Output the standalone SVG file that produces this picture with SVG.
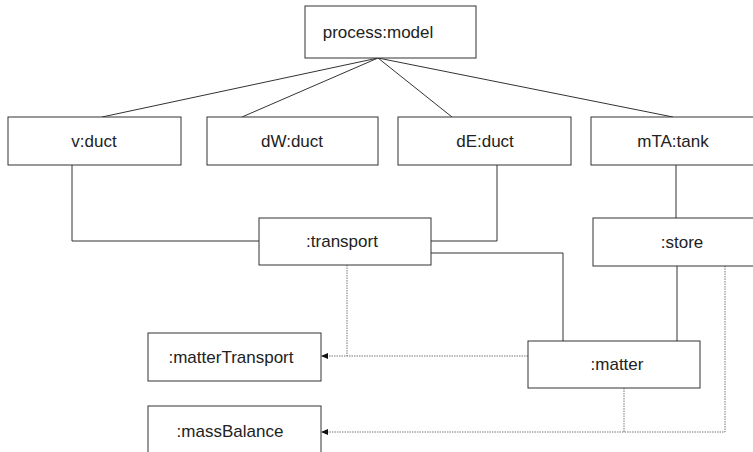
<svg xmlns="http://www.w3.org/2000/svg" width="753" height="452" viewBox="0 0 753 452">
<style>
.box{fill:#fff;stroke:#333;stroke-width:1}
.t{font-family:"Liberation Sans",Arial,sans-serif;font-size:17px;fill:#222;text-anchor:middle}
.s{fill:none;stroke:#333;stroke-width:1}
.d{fill:none;stroke:#777;stroke-width:1;stroke-dasharray:1.5,1}
</style>
<defs>
<marker id="ah" markerWidth="7" markerHeight="6" refX="7" refY="3" orient="auto" markerUnits="userSpaceOnUse">
<path d="M0,0 L7,3 L0,6 Z" fill="#111"/>
</marker>
</defs>
<rect width="753" height="452" fill="#fff"/>
<g id="connectors">
<line class="s" x1="378" y1="58" x2="102" y2="117"/>
<line class="s" x1="378" y1="58" x2="242" y2="117"/>
<line class="s" x1="378" y1="58" x2="452" y2="117"/>
<line class="s" x1="378" y1="58" x2="673" y2="117"/>
<polyline class="s" points="72,165 72,241 259,241"/>
<polyline class="s" points="497,165 497,241 431,241"/>
<polyline class="s" points="431,253 563,253 563,341"/>
<line class="s" x1="676" y1="165" x2="676" y2="218"/>
<line class="s" x1="677" y1="266" x2="677" y2="341"/>
<polyline class="d" points="347,265 347,356"/>
<polyline class="d" points="528,356 321,356" marker-end="url(#ah)"/>
<polyline class="d" points="725,266 725,432 321,432" marker-end="url(#ah)"/>
<line class="d" x1="624" y1="388" x2="624" y2="432"/>
</g>
<g id="process-model"><rect class="box" x="305" y="6" width="171" height="52"/><text class="t" x="378" y="38">process:model</text></g>
<g id="v-duct"><rect class="box" x="8" y="117" width="173" height="48"/><text class="t" x="94" y="147">v:duct</text></g>
<g id="dW-duct"><rect class="box" x="207" y="117" width="171" height="48"/><text class="t" x="292" y="147">dW:duct</text></g>
<g id="dE-duct"><rect class="box" x="398" y="117" width="173" height="48"/><text class="t" x="485" y="147">dE:duct</text></g>
<g id="mTA-tank"><rect class="box" x="591" y="117" width="170" height="48"/><text class="t" x="673" y="147">mTA:tank</text></g>
<g id="transport"><rect class="box" x="259" y="218" width="172" height="47"/><text class="t" x="342" y="247">:transport</text></g>
<g id="store"><rect class="box" x="593" y="218" width="170" height="48"/><text class="t" x="682" y="248">:store</text></g>
<g id="matter"><rect class="box" x="528" y="341" width="172" height="47"/><text class="t" x="617" y="370">:matter</text></g>
<g id="matterTransport"><rect class="box" x="148" y="333" width="173" height="48"/><text class="t" x="231" y="363">:matterTransport</text></g>
<g id="massBalance"><rect class="box" x="148" y="406" width="173" height="60"/><text class="t" x="230" y="437">:massBalance</text></g>
</svg>
